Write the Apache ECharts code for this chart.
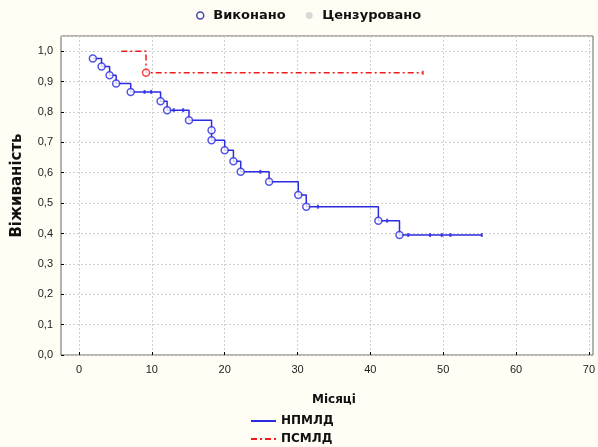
<!DOCTYPE html>
<html><head><meta charset="utf-8">
<script src="https://cdn.jsdelivr.net/npm/echarts@6/dist/echarts.min.js"></script>
<style>html,body{margin:0;padding:0;background:#fffdf4}#c{width:598px;height:447px}</style>
</head><body><div id="c"></div>
<script>
// x tick labels (months) and y tick labels (survival)
const xTickValues = [0, 10, 20, 30, 40, 50, 60, 70];
const yTickValues = [0, 0.1, 0.2, 0.3, 0.4, 0.5, 0.6, 0.7, 0.8, 0.9, 1.0];

// НПМЛД: events (Виконано)
const npmldEventT = [1.9, 3.1, 4.2, 5.1, 7.1, 11.2, 12.1, 15.1, 18.2, 18.2, 20.0, 21.2, 22.2, 26.1, 30.1, 31.2, 41.1, 44.0];
const npmldEventS = [0.976, 0.950, 0.921, 0.894, 0.866, 0.835, 0.806, 0.773, 0.740, 0.707, 0.674, 0.638, 0.603, 0.570, 0.527, 0.488, 0.442, 0.395];
// НПМЛД: censored (Цензуровано)
const npmldCensT = [9.0, 9.9, 13.0, 14.3, 24.9, 32.8, 42.3, 45.2, 48.2, 49.8, 51.0, 55.3];
const npmldCensS = [0.866, 0.866, 0.806, 0.806, 0.603, 0.488, 0.442, 0.395, 0.395, 0.395, 0.395, 0.395];

// ПСМЛД
const psmldStartT = [5.8];
const psmldStartS = [1.0];
const psmldEventT = [9.2];
const psmldEventS = [0.929];
const psmldCensT = [47.2];
const psmldCensS = [0.929];

const BLUE = '#2b2be0';
const RED = '#ee1c1c';

function pairs(t, s) { return t.map((v, i) => [v, s[i]]); }
function merged(...lists) {
  return [].concat(...lists).sort((a, b) => a[0] - b[0] || b[1] - a[1]);
}

const npmldLine = merged(pairs(npmldEventT, npmldEventS), pairs(npmldCensT, npmldCensS));
const psmldLine = merged(pairs(psmldStartT, psmldStartS), pairs(psmldEventT, psmldEventS), pairs(psmldCensT, psmldCensS));

const eventsData = pairs(npmldEventT, npmldEventS).map(p => ({value: p}))
  .concat(pairs(psmldEventT, psmldEventS).map(p => ({value: p, itemStyle: {borderColor: RED}})));
const censData = pairs(npmldCensT, npmldCensS).map(p => ({value: p, itemStyle: {color: BLUE}}))
  .concat(pairs(psmldCensT, psmldCensS).map(p => ({value: p, itemStyle: {color: RED}})));

const FONT = 'Liberation Sans';
const chart = echarts.init(document.getElementById('c'));
chart.setOption({
  backgroundColor: '#fffdf4',
  animation: false,
  textStyle: {fontFamily: FONT},
  legend: [
    {
      data: [
        {name: 'Виконано', icon: 'circle', itemStyle: {color: '#ffffff', borderColor: '#1a1a9a', borderWidth: 1.5}},
        {name: 'Цензуровано', icon: 'circle', itemStyle: {color: '#d0d0d0', borderWidth: 0}}
      ],
      formatter: name => ' ' + name,
      left: 196, top: 9, padding: 0, itemWidth: 7, itemHeight: 7, itemGap: 20,
      textStyle: {fontFamily: 'DejaVu Sans', fontWeight: 'bold', fontSize: 13, color: '#111'}
    },
    {
      data: ['НПМЛД', 'ПСМЛД'],
      orient: 'vertical', left: 250, top: 415, padding: 0, itemWidth: 25, itemHeight: 13, itemGap: 6,
      itemStyle: {opacity: 0},
      textStyle: {fontFamily: 'DejaVu Sans', fontWeight: 'bold', fontSize: 12, color: '#111'}
    }
  ],
  grid: [
    {left: 61, top: 36, right: 5, bottom: 92, show: true, backgroundColor: '#ffffff', borderColor: '#666', borderWidth: 1},
    {left: 79, top: 36, right: 4, bottom: 92}
  ],
  xAxis: [
    {gridIndex: 0, type: 'value', min: 0, max: 1, show: false},
    {
      gridIndex: 1, type: 'value', min: xTickValues[0], max: xTickValues[xTickValues.length - 1], interval: 10,
      name: 'Місяці', nameLocation: 'middle', nameGap: 39,
      nameTextStyle: {fontFamily: 'DejaVu Sans', fontWeight: 'bold', fontSize: 12, color: '#111'},
      axisLine: {show: false},
      axisTick: {show: true, inside: true, length: 3, lineStyle: {color: '#000'}},
      axisLabel: {fontSize: 11, color: '#222', margin: 9, formatter: v => String(v)},
      splitLine: {show: true, lineStyle: {color: '#cfcfcf', type: [2, 2]}}
    }
  ],
  yAxis: [
    {
      gridIndex: 0, type: 'value', min: yTickValues[0], max: 1.05, interval: 0.1,
      name: 'Віживаність', nameLocation: 'middle', nameGap: 36,
      nameTextStyle: {fontFamily: 'DejaVu Sans', fontWeight: 'bold', fontSize: 15, color: '#111', padding: [0, 0, 0, 20]},
      axisLine: {show: false},
      axisTick: {show: true, inside: true, length: 3, lineStyle: {color: '#000'}},
      axisLabel: {fontSize: 11, color: '#222', margin: 8, showMaxLabel: false,
        formatter: v => v > 1.0001 ? '' : v.toFixed(1).replace('.', ',')},
      splitLine: {show: true, lineStyle: {color: '#cfcfcf', type: [2, 2]}}
    },
    {gridIndex: 1, type: 'value', min: 0, max: 1.05, show: false}
  ],
  series: [
    {
      name: 'НПМЛД', type: 'line', xAxisIndex: 1, yAxisIndex: 1, step: 'end',
      symbol: 'none', data: npmldLine, color: BLUE,
      lineStyle: {color: BLUE, width: 1.5}
    },
    {
      name: 'ПСМЛД', type: 'line', xAxisIndex: 1, yAxisIndex: 1, step: 'end',
      symbol: 'none', data: psmldLine, color: RED,
      lineStyle: {color: RED, width: 1.5, type: [6, 3, 2, 3]}
    },
    {
      name: 'Виконано', type: 'scatter', xAxisIndex: 1, yAxisIndex: 1,
      symbol: 'circle', symbolSize: 7, data: eventsData, z: 5,
      itemStyle: {color: '#ffffff', borderColor: BLUE, borderWidth: 1.5}
    },
    {
      name: 'Цензуровано', type: 'scatter', xAxisIndex: 1, yAxisIndex: 1,
      symbol: 'rect', symbolSize: [2, 4], data: censData, z: 4,
      itemStyle: {color: '#c8c8c8'}
    }
  ]
});
</script>
</body></html>
